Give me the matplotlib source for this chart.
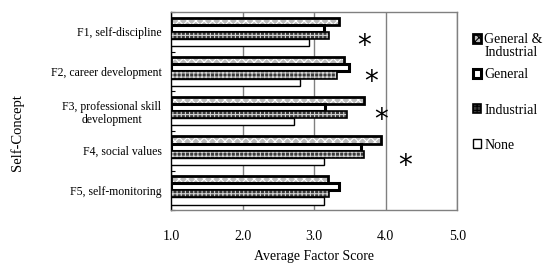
import numpy as np
import matplotlib.pyplot as plt
from matplotlib.patches import Patch

plt.rcParams['font.family'] = ['Liberation Serif', 'DejaVu Serif']
plt.rcParams['hatch.linewidth'] = 0.8

# data
factors = ["F1, self-discipline", "F2, career development",
           "F3, professional skill\ndevelopment", "F4, social values",
           "F5, self-monitoring"]
general_industrial = [3.35, 3.42, 3.69, 3.94, 3.19]
general = [3.14, 3.48, 3.15, 3.66, 3.34]
industrial = [3.21, 3.32, 3.46, 3.69, 3.21]
none = [2.93, 2.80, 2.72, 3.14, 3.14]
star_x = [3.70, 3.80, 3.94, 4.27]
star_y = [0.36, 0.27, 0.23, 0.39]
xticks = [1.0, 2.0, 3.0, 4.0, 5.0]

fig = plt.figure(figsize=(5.45, 2.67), dpi=100)
ax = fig.add_axes([0.314, 0.213, 0.525, 0.742])

y = np.arange(len(factors))
h = 0.18
base = 1.0

def hbar(vals, off, face, hatch, hcolor, lw):
    w = np.array(vals) - base
    if hatch:
        ax.barh(y + off, w, h, left=base, color=face, hatch=hatch,
                edgecolor=hcolor, linewidth=0, zorder=3)
        ax.barh(y + off, w, h, left=base, fill=False,
                edgecolor='black', linewidth=lw, zorder=4)
    else:
        ax.barh(y + off, w, h, left=base, color=face,
                edgecolor='black', linewidth=lw, zorder=3)

hbar(general_industrial, -0.27, '#bdbdbd', 'xxxx', 'white', 2.0)
hbar(general, -0.09, 'white', None, None, 2.2)
hbar(industrial, 0.09, '#3a3a3a', '++++', '#d0d0d0', 1.2)
hbar(none, 0.27, 'white', None, None, 1.0)

for i, sx in enumerate(star_x):
    ax.text(sx, i + star_y[i], "*", fontsize=20, ha='center', va='center',
            family='DejaVu Sans')

ax.set_xlim(1.0, 5.0)
ax.set_ylim(len(factors) - 0.5, -0.5)
ax.set_xticks(xticks)
ax.set_xticklabels(["%.1f" % t for t in xticks], fontsize=10)
ax.set_yticks(y)
ax.set_yticklabels(factors, fontsize=8.5, multialignment='center')
ax.set_yticks(np.arange(-0.5, len(factors), 1.0), minor=True)
ax.tick_params(axis='y', which='major', length=0, pad=7)
ax.tick_params(axis='y', which='minor', length=3, direction='in', width=0.8)
ax.tick_params(axis='x', length=0, pad=14)

ax.grid(axis='x', color='#808080', linewidth=1.0, zorder=0)
for s in ['top', 'right', 'bottom']:
    ax.spines[s].set_color('#808080')
    ax.spines[s].set_linewidth(1.0)
ax.spines['left'].set_color('black')
ax.spines['left'].set_linewidth(1.0)

ax.set_xlabel("Average Factor Score", fontsize=10, labelpad=5)
fig.text(17 / 545, 1 - 133 / 267, "Self-Concept", rotation=90,
         fontsize=10.5, ha='center', va='center')

handles = [
    Patch(facecolor='#bdbdbd', edgecolor='black', hatch='xxxx', linewidth=2.0),
    Patch(facecolor='white', edgecolor='black', linewidth=2.2),
    Patch(facecolor='#3a3a3a', edgecolor='black', hatch='++++', linewidth=1.2),
    Patch(facecolor='white', edgecolor='black', linewidth=1.0),
]
labels = ["General &", "General", "Industrial", "None"]
leg = fig.legend(handles, labels, loc='upper left',
                 bbox_to_anchor=(0.868, 0.876), frameon=False, fontsize=10,
                 handlelength=0.6, handleheight=0.6, handletextpad=0.2,
                 labelspacing=1.6, borderaxespad=0, borderpad=0)
fig.text(485 / 545, 1 - 52 / 267, "Industrial", fontsize=10,
         ha='left', va='center')

fig.savefig("out.png", dpi=100)
